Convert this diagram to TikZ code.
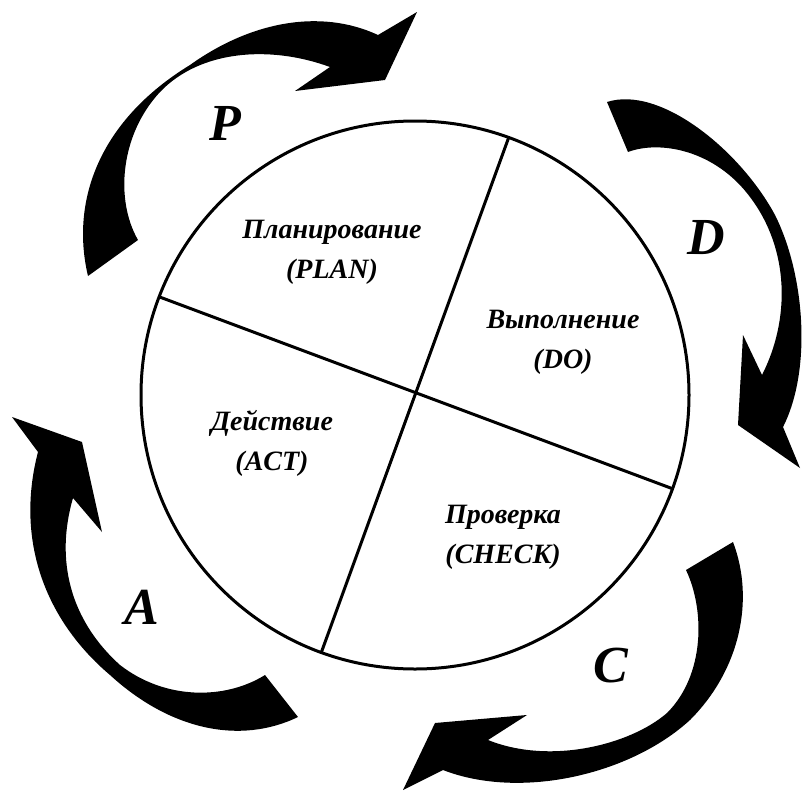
\documentclass[tikz,border=0pt]{standalone}
\usepackage{fontspec}
\setmainfont{Liberation Serif}
\begin{document}
\begin{tikzpicture}[x=1pt,y=-1pt,
  lbl/.style={font=\bfseries\itshape\fontsize{28}{40}\selectfont, align=center, inner sep=0pt},
  big/.style={font=\bfseries\itshape\fontsize{52}{52}\selectfont, inner sep=0pt},
  ring/.style={circle, draw, line width=3pt, minimum size=548pt, inner sep=0pt, outer sep=0pt},
  divider/.style={line width=3pt},
  crescent/.style={fill=black, draw=none}]
\useasboundingbox (0,0) rectangle (806,790);
\fill[white] (0,0) rectangle (806,790);

\node[ring] (c) at (415,395) {};
\draw[divider] (c.-20.1) -- (c.159.9);
\draw[divider] (c.70.1) -- (c.250.1);

% P arrow (top-left)
\fill[crescent] (138,240) -- (88,276)
  .. controls (70,200) and (100,120) .. (190,65)
  .. controls (250,22) and (320,8) .. (378,35)
  -- (417,12) -- (385,80) -- (295,91) -- (330,67)
  .. controls (270,45) and (200,50) .. (160,92)
  .. controls (120,135) and (115,200) .. (138,240)
  -- cycle;

% D arrow (top-right)
\fill[crescent] (628,152) -- (607,102)
  .. controls (660,85) and (740,150) .. (775,215)
  .. controls (805,275) and (812,370) .. (783,427)
  -- (800,468) -- (738,425) -- (743,335) -- (762,375)
  .. controls (790,320) and (790,250) .. (750,197)
  .. controls (715,150) and (660,140) .. (628,152)
  -- cycle;

% C arrow (bottom-right)
\fill[crescent] (686,570) -- (733,542)
  .. controls (755,600) and (740,670) .. (690,720)
  .. controls (630,775) and (520,800) .. (443,770)
  -- (403,790) -- (435,723) -- (527,715) -- (488,740)
  .. controls (550,765) and (630,745) .. (667,713)
  .. controls (705,675) and (705,610) .. (686,570)
  -- cycle;

% A arrow (bottom-left)
\fill[crescent] (265,675) -- (298,717)
  .. controls (240,745) and (170,730) .. (110,675)
  .. controls (45,620) and (15,540) .. (38,452)
  -- (12,417) -- (82,442) -- (102,532) -- (73,498)
  .. controls (55,560) and (70,620) .. (120,665)
  .. controls (165,700) and (225,700) .. (265,675)
  -- cycle;

% quadrant labels
\node[lbl] (plan) at (332,252) {Планирование\\(PLAN)};
\node[lbl] (do) at (563,342) {Выполнение\\(DO)};
\node[lbl] (act) at (272,443) {Действие\\(ACT)};
\node[lbl] (check) at (503,537) {Проверка\\(CHECK)};

% cycle letters
\node[big] (lp) at (225,123) {P};
\node[big] (ld) at (706,238) {D};
\node[big] (lc) at (611,666) {C};
\node[big] (la) at (142,607) {A};
\end{tikzpicture}
\end{document}
